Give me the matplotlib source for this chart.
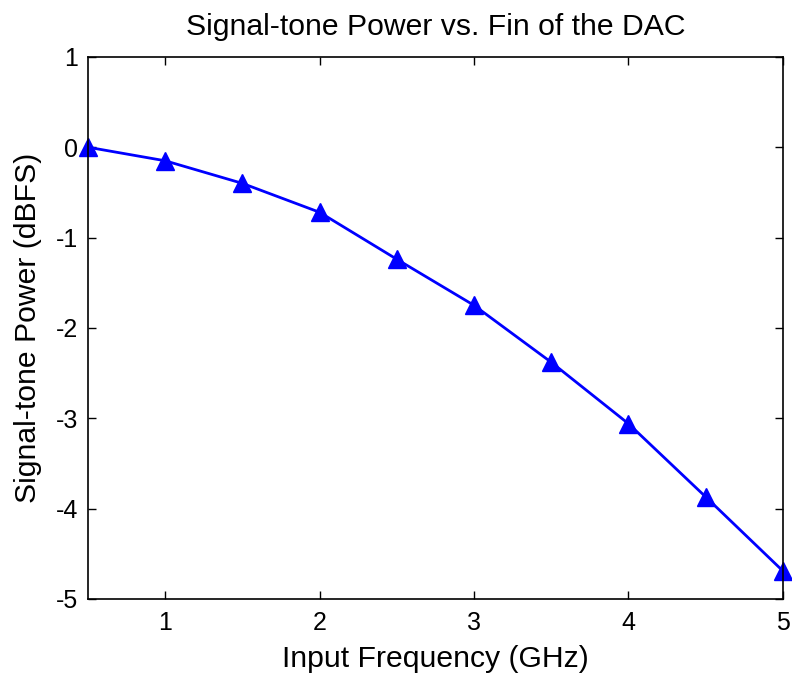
import matplotlib
matplotlib.use("Agg")
import matplotlib.pyplot as plt

# Signal-tone power vs. input frequency of the DAC
freq_ghz = [0.5, 1.0, 1.5, 2.0, 2.5, 3.0, 3.5, 4.0, 4.5, 5.0]
power_dbfs = [0.0, -0.15, -0.40, -0.72, -1.24, -1.75, -2.38, -3.06, -3.87, -4.69]

x_ticks = [1, 2, 3, 4, 5]
y_ticks = [-5, -4, -3, -2, -1, 0, 1]

plt.rcParams["font.family"] = ["Liberation Sans", "DejaVu Sans"]
plt.rcParams["axes.unicode_minus"] = False

fig = plt.figure(figsize=(7.92, 6.73), dpi=100)
ax = fig.add_axes([0.111, 0.110, 0.8775, 0.8055])

ax.plot(freq_ghz, power_dbfs, color="#0000ff", linewidth=2.0,
        marker="^", markersize=13, clip_on=False)

ax.set_xlim(0.5, 5)
ax.set_ylim(-5, 1)
ax.set_xticks(x_ticks)
ax.set_yticks(y_ticks)
ax.tick_params(direction="in", top=True, right=True, length=6,
               width=1, labelsize=18)
ax.tick_params(axis="x", pad=9)
ax.tick_params(axis="y", pad=7)
for s in ax.spines.values():
    s.set_linewidth(1.2)

ax.set_title("Signal-tone Power vs. Fin of the DAC", fontsize=21.7, pad=16)
ax.set_xlabel("Input Frequency (GHz)", fontsize=21.7, labelpad=7)
ax.set_ylabel("Signal-tone Power (dBFS)", fontsize=21.7, labelpad=10)

fig.savefig("out.png", dpi=100)
